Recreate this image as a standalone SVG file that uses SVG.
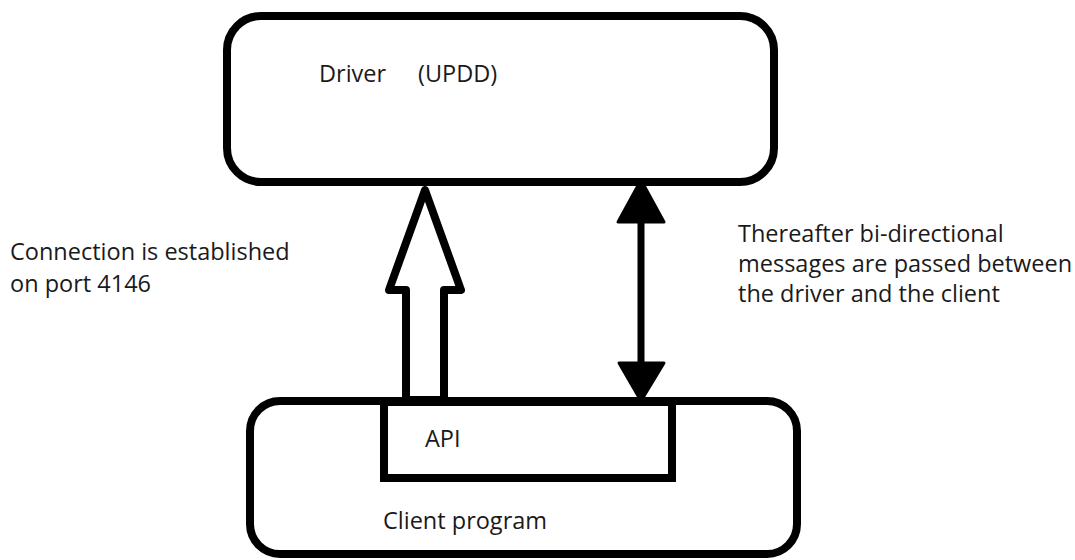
<svg xmlns="http://www.w3.org/2000/svg" width="1075" height="560" viewBox="0 0 1075 560">
<style>
.box{fill:#fff;stroke:#000;stroke-width:8}
.t{font-family:"Open Sans","Noto Sans",sans-serif;font-size:23.5px;fill:#1a1a1a}
.conn{stroke:#000;stroke-width:7;fill:none}
</style>
<g id="driver">
<rect class="box" x="227" y="16" width="547" height="166" rx="34"/>
<text class="t" x="319" y="82">Driver</text>
<text class="t" x="418" y="82">(UPDD)</text>
</g>
<g id="client">
<rect class="box" x="250" y="401" width="547" height="153" rx="30"/>
<text class="t" x="383" y="529">Client program</text>
</g>
<g id="api">
<rect class="box" x="384" y="402" width="288" height="76"/>
<text class="t" x="425" y="447">API</text>
</g>
<g id="connectors">
<polygon points="406,400 406,290 389,290 425,190 461,290 444,290 444,400" fill="#fff" stroke="#000" stroke-width="8" stroke-linejoin="round"/>
<line x1="641" y1="222" x2="641" y2="364" class="conn"/>
<polygon points="641,180 618,222 664,222" fill="#000" stroke="#000" stroke-width="3" stroke-linejoin="round"/>
<polygon points="641,401 619,363 664,363" fill="#000" stroke="#000" stroke-width="3" stroke-linejoin="round"/>
</g>
<g id="labels">
<text class="t" x="10" y="260">Connection is established</text>
<text class="t" x="10" y="292">on port 4146</text>
<text class="t" x="738" y="242">Thereafter bi-directional</text>
<text class="t" x="738" y="272">messages are passed between</text>
<text class="t" x="738" y="302">the driver and the client</text>
</g>
</svg>
